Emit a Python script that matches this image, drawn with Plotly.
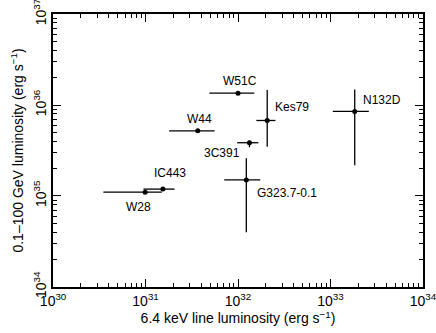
import numpy as np
import plotly.graph_objects as go

# SNR names and luminosities (erg/s)
names = ["W28", "IC443", "W44", "W51C", "3C391", "Kes79", "G323.7-0.1", "N132D"]
line_lum = [9.9e30, 1.54e31, 3.67e31, 1.0e32, 1.33e32, 2.07e32, 1.23e32, 1.83e33]
line_lo = [3.5e30, 9.5e30, 1.8e31, 4.9e31, 9.8e31, 1.58e32, 7.1e31, 1.06e33]
line_hi = [1.5e31, 2.06e31, 5.6e31, 1.5e32, 1.66e32, 2.54e32, 1.74e32, 2.6e33]
gev_lum = [1.1e35, 1.19e35, 5.2e35, 1.35e36, 3.85e35, 6.76e35, 1.5e35, 8.5e35]
gev_lo = [1.1e35, 1.19e35, 5.2e35, 1.35e36, 3.43e35, 3.47e35, 4.0e34, 2.17e35]
gev_hi = [1.1e35, 1.19e35, 5.2e35, 1.35e36, 4.07e35, 1.46e36, 2.6e35, 1.48e36]

# label offsets in px relative to each point
lab_dx = [-7, 7, 2, 2, -27, 25, 41, 27]
lab_dy = [-15, 16, 12, 12, -10, 13, -13, 11]

XR = [30, 34]
YR = [34, 37]

x = np.array(line_lum)
y = np.array(gev_lum)

fig = go.Figure()
fig.add_trace(go.Scatter(
    x=x, y=y,
    mode="markers",
    marker=dict(size=5, color="black"),
    error_x=dict(type="data", symmetric=False,
                 array=np.array(line_hi) - x, arrayminus=x - np.array(line_lo),
                 color="black", thickness=1.3, width=0),
    error_y=dict(type="data", symmetric=False,
                 array=np.array(gev_hi) - y, arrayminus=y - np.array(gev_lo),
                 color="black", thickness=1.3, width=0),
    showlegend=False,
    hoverinfo="skip",
))

for n, xv, yv, dx, dy in zip(names, line_lum, gev_lum, lab_dx, lab_dy):
    fig.add_annotation(
        x=np.log10(xv), y=np.log10(yv), text=n, showarrow=False,
        xshift=dx, yshift=dy, font=dict(size=12, color="black"),
    )


def minor_vals(lo, hi):
    return [m * 10.0 ** e for e in range(lo, hi) for m in range(2, 10)]


def decades(lo, hi):
    return [10.0 ** e for e in range(lo, hi + 1)]


def decade_text(lo, hi):
    return [f"10<sup>{e}</sup>" for e in range(lo, hi + 1)]


major = dict(
    type="log",
    showgrid=False,
    zeroline=False,
    showline=True,
    linecolor="black",
    linewidth=1.5,
    mirror="allticks",
    ticks="inside",
    ticklen=8,
    tickwidth=1.2,
    tickcolor="black",
    tickfont=dict(size=14, color="black"),
    ticklabeloverflow="allow",
    automargin=False,
)

minor = dict(
    type="log",
    showgrid=False,
    zeroline=False,
    showline=False,
    mirror="allticks",
    ticks="inside",
    ticklen=4,
    tickwidth=1,
    tickcolor="black",
    showticklabels=False,
    automargin=False,
)

fig.update_layout(
    width=436, height=333,
    paper_bgcolor="white",
    plot_bgcolor="white",
    font=dict(family="Liberation Sans, Arial, sans-serif", color="black"),
    margin=dict(l=53, r=13, t=14, b=46),
    xaxis=dict(range=[XR[0] - 0.001, XR[1] + 0.001],
               tickvals=decades(*XR), ticktext=decade_text(*XR),
               title=dict(text="6.4 keV line luminosity (erg s<sup>−1</sup>)",
                          font=dict(size=14), standoff=5), **major),
    yaxis=dict(range=[YR[0] - 0.001, YR[1] + 0.001], tickangle=-90,
               tickvals=decades(*YR), ticktext=decade_text(*YR),
               title=dict(text="0.1–100 GeV luminosity (erg s<sup>−1</sup>)",
                          font=dict(size=14), standoff=4), **major),
    xaxis2=dict(range=[XR[0] - 0.001, XR[1] + 0.001], overlaying="x", anchor="y",
                tickvals=minor_vals(*XR), **minor),
    yaxis2=dict(range=[YR[0] - 0.001, YR[1] + 0.001], overlaying="y", anchor="x",
                tickvals=minor_vals(*YR), **minor),
)
# invisible trace so the minor-tick axes get drawn
fig.add_trace(go.Scatter(x=[line_lum[0]], y=[gev_lum[0]], xaxis="x2", yaxis="y2",
                         mode="markers", marker=dict(opacity=0), showlegend=False,
                         hoverinfo="skip"))

fig.write_html("out.html", config={"displayModeBar": False},
               post_script="document.body.style.margin='0';")
